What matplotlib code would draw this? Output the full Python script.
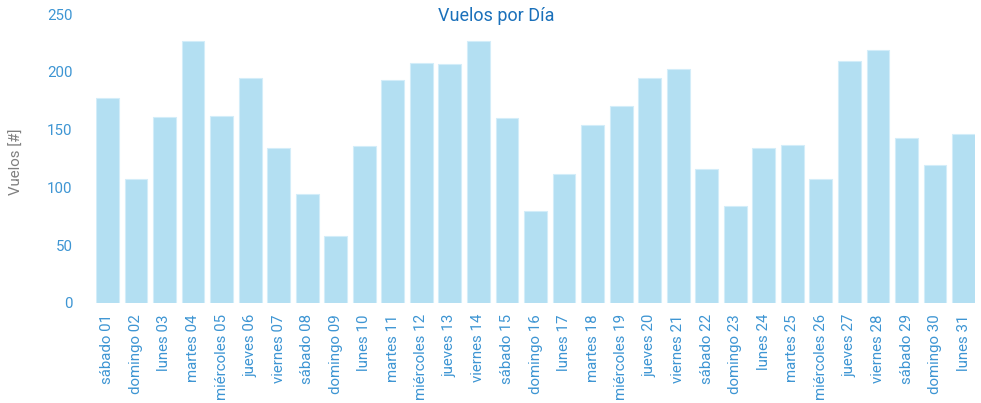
import matplotlib
matplotlib.use('Agg')
import matplotlib.pyplot as plt
import numpy as np

# ---------------------------------------------------------------------------
# Data
# ---------------------------------------------------------------------------
dias = ['sábado 01', 'domingo 02', 'lunes 03', 'martes 04', 'miércoles 05',
        'jueves 06', 'viernes 07', 'sábado 08', 'domingo 09', 'lunes 10',
        'martes 11', 'miércoles 12', 'jueves 13', 'viernes 14', 'sábado 15',
        'domingo 16', 'lunes 17', 'martes 18', 'miércoles 19', 'jueves 20',
        'viernes 21', 'sábado 22', 'domingo 23', 'lunes 24', 'martes 25',
        'miércoles 26', 'jueves 27', 'viernes 28', 'sábado 29', 'domingo 30',
        'lunes 31']
vuelos = [177, 107, 161, 227, 162, 195, 134, 94, 58, 136,
          193, 208, 207, 227, 160, 80, 112, 154, 170, 195,
          202, 116, 84, 134, 137, 107, 209, 219, 143, 119, 146]
yticks = [0, 50, 100, 150, 200, 250]

# ---------------------------------------------------------------------------
# Style
# ---------------------------------------------------------------------------
plt.rcParams['font.family'] = ['Roboto', 'DejaVu Sans']
tick_color = '#3d95d3'
title_color = '#1a70ba'
bar_color = '#b3dff2'

W, H = 981, 403
fig = plt.figure(figsize=(W / 100, H / 100), dpi=100)
# axes spans exactly the bars (first bar left edge -> last bar right edge)
ax = fig.add_axes([96 / W, 1 - 303 / H, (975 - 96) / W, (303 - 14) / H])

x = np.arange(len(dias))
ax.bar(x, vuelos, width=0.8, color=bar_color, edgecolor='#d3edf9', linewidth=0.8)

ax.set_xlim(-0.4, len(dias) - 0.6)
ax.set_ylim(0, 250)
ax.set_yticks(yticks)
ax.set_xticks(x)
ax.set_xticklabels(dias, rotation=90)

for s in ax.spines.values():
    s.set_visible(False)
ax.tick_params(axis='both', length=0, colors=tick_color, labelsize=10.8)
ax.tick_params(axis='y', pad=17)
ax.tick_params(axis='x', pad=8)

ax.set_ylabel('Vuelos [#]', color='#7f7f7f', fontsize=10.8)
ax.yaxis.set_label_coords(-72 / (975 - 96), 0.49)

fig.text(496 / W, 1 - 16 / H, 'Vuelos por Día',
         ha='center', va='center', color=title_color, fontsize=13)

fig.savefig('out.png', dpi=100)
